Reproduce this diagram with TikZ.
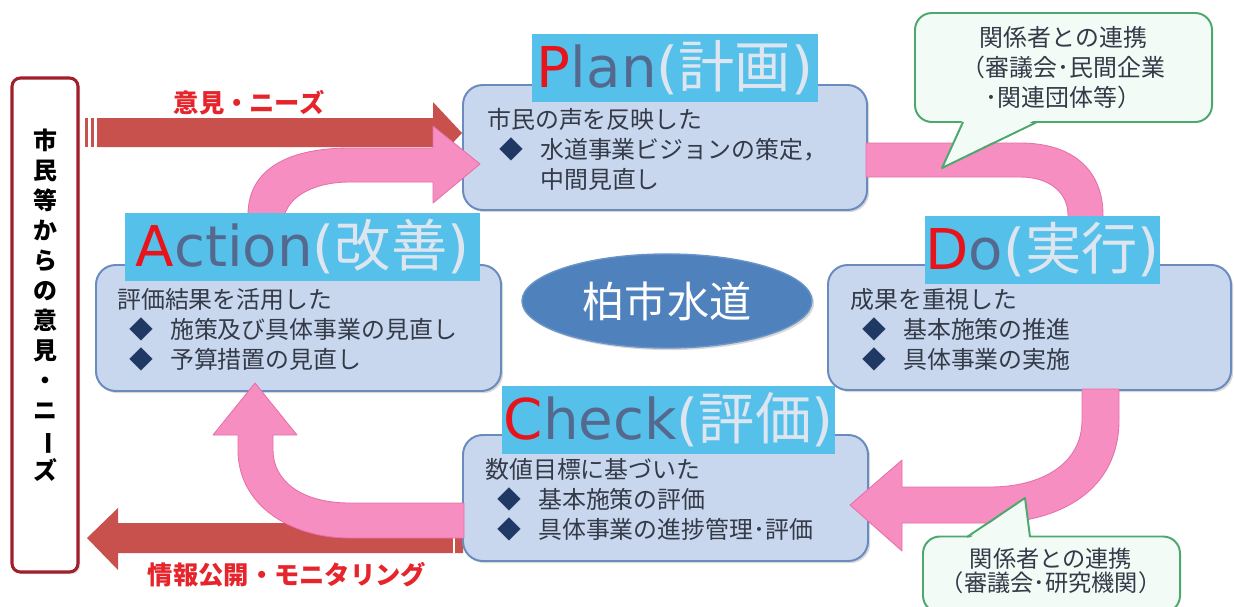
\documentclass[tikz,border=0pt]{standalone}
\usepackage{fontspec}
\usepackage{graphicx}
\setmainfont{Noto Sans CJK JP}
\newfontfamily\latinfont{DejaVu Sans}
\usetikzlibrary{shapes.geometric,shadows}

\definecolor{boxfill}{HTML}{C9D7EE}
\definecolor{boxline}{HTML}{6A8BBE}
\definecolor{bandfill}{HTML}{55C1EA}
\definecolor{arrowred}{HTML}{C8504D}
\definecolor{labelred}{HTML}{E5242B}
\definecolor{cyclepink}{HTML}{F78EC1}
\definecolor{cycleedge}{HTML}{E66FA8}
\definecolor{textgray}{HTML}{333A48}
\definecolor{bulletnavy}{HTML}{1F3864}
\definecolor{titlered}{HTML}{E8141C}
\definecolor{titleblue}{HTML}{55698F}
\definecolor{titlelight}{HTML}{DDE5F0}
\definecolor{notefill}{HTML}{F3FBF6}
\definecolor{noteline}{HTML}{4DA86E}
\definecolor{hubfill}{HTML}{4F81BD}
\definecolor{citizenline}{HTML}{A11F2B}

\newlength\pxu \setlength\pxu{0.025cm}
\newcommand\bul{\hspace*{12\pxu}\textcolor{bulletnavy}{◆}\hspace*{17\pxu}}
\newcommand\indentline{\hspace*{53\pxu}}
\newcommand\pdcatitle[3]{{\latinfont\textcolor{titlered}{#1}\textcolor{titleblue}{#2}\textcolor{titlelight}{(}}\textcolor{titlelight}{#3}{\latinfont\textcolor{titlelight}{)}}}

\begin{document}
\begin{tikzpicture}[x=0.025cm,y=-0.025cm,line join=round,
    infobox/.style={draw=boxline,line width=1.4pt,fill=boxfill,rounded corners=14pt,
      drop shadow={opacity=0.3,shadow xshift=1.5pt,shadow yshift=-1.5pt}},
    band/.style={fill=bandfill,inner sep=0pt,minimum height=68*\pxu,
      font=\fontsize{40}{48}\selectfont},
    bodytext/.style={anchor=north west,align=left,inner sep=0pt,text=textgray,
      font=\fontsize{17}{21.3}\selectfont},
    cyclearrow/.style={fill=cyclepink,draw=cycleedge,line width=0.6pt},
    redlabel/.style={text=labelred,font=\fontsize{18}{22}\selectfont\bfseries},
    note/.style={draw=noteline,line width=1.4pt,fill=notefill,rounded corners=12pt,
      align=center,text=textgray}]
  \useasboundingbox (0,0) rectangle (1234,606);
  \fill[white] (0,0) rectangle (1234,606);

  % red arrows to and from the citizens
  \fill[arrowred] (97,118) -- (433,118) -- (433,102) -- (462,133) -- (433,164) -- (433,147) -- (97,147) -- cycle;
  \foreach \sx in {85,90.5} \fill[arrowred] (\sx,118) rectangle ++(3,29);
  \fill[arrowred] (463,523) -- (118,523) -- (118,508) -- (87,538) -- (118,570) -- (118,553) -- (463,553) -- cycle;
  \draw[white,line width=0.8pt] (454,523) -- (454,553);
  \node[redlabel] (opinionlabel) at (249,103) {意見・ニーズ};
  \node[redlabel] (infolabel) at (287,575) {情報公開・モニタリング};

  % citizens
  \node[draw=citizenline,line width=2.2pt,fill=white,rounded corners=6pt,
    minimum width=66*\pxu,minimum height=494*\pxu,
    drop shadow={opacity=0.25,shadow xshift=1.5pt,shadow yshift=-1.5pt}] (citizenbox) at (45,325) {};
  \node[align=center,font=\fontsize{17}{21.3}\selectfont\bfseries] (citizentext) at (45,305)
    {市\\民\\等\\か\\ら\\の\\意\\見\\・\\ニ\\\rotatebox[origin=c]{-90}{ー}\\ズ};

  % PDCA boxes
  \node[infobox,minimum width=404*\pxu,minimum height=125*\pxu] (planbox) at (665,147.5) {};
  \node[infobox,minimum width=405*\pxu,minimum height=126*\pxu] (actionbox) at (298.5,328) {};
  \node[infobox,minimum width=403*\pxu,minimum height=125*\pxu] (dobox) at (1029.5,327.5) {};
  \node[infobox,minimum width=405*\pxu,minimum height=126*\pxu] (checkbox) at (665.5,498) {};

  \node[bodytext] (plantext) at (487,108) {市民の声を反映した\\\bul 水道事業ビジョンの策定，\\\indentline 中間見直し};
  \node[bodytext] (actiontext) at (117,288) {評価結果を活用した\\\bul 施策及び具体事業の見直し\\\bul 予算措置の見直し};
  \node[bodytext] (dotext) at (850,288) {成果を重視した\\\bul 基本施策の推進\\\bul 具体事業の実施};
  \node[bodytext] (checktext) at (485,458) {数値目標に基づいた\\\bul 基本施策の評価\\\bul 具体事業の進捗管理･評価};

  \node[ellipse,fill=hubfill,draw=hubfill!85!white,line width=1pt,
    minimum width=290*\pxu,minimum height=94*\pxu,text=white,
    font=\fontsize{30}{36}\selectfont,
    drop shadow={opacity=0.3,shadow xshift=1.5pt,shadow yshift=-1.5pt}] (hub) at (667,301) {柏市水道};

  % PDCA cycle arrows
  \path[cyclearrow] (248,232) -- (248,215) .. controls (248,168) and (290,148) .. (350,148)
    -- (433,148) -- (433,126) -- (480,164) -- (433,203) -- (433,182) -- (350,182)
    .. controls (312,182) and (283,198) .. (283,225) -- (283,232) -- cycle;
  \path[cyclearrow] (866,143) -- (1020,143) .. controls (1075,143) and (1103,172) .. (1103,215)
    -- (1103,236) -- (1124,236) -- (1085.5,272) -- (1047,236) -- (1068,236) -- (1068,215)
    .. controls (1068,193) and (1050,177) .. (1020,177) -- (866,177) -- cycle;
  \path[cyclearrow] (1082,389) -- (1082,420) .. controls (1082,465) and (1040,487) .. (990,487)
    -- (902,487) -- (902,460) -- (850,505) -- (902,551) -- (902,523) -- (990,523)
    .. controls (1060,523) and (1119,490) .. (1119,420) -- (1119,389) -- cycle;
  \path[cyclearrow] (464,503) -- (350,503) .. controls (300,503) and (273,480) .. (273,450)
    -- (273,435) -- (297,435) -- (255,383) -- (213,435) -- (238,435) -- (238,450)
    .. controls (238,505) and (290,538) .. (350,538) -- (464,538) -- cycle;

  % titles
  \node[band,minimum width=286*\pxu] (plantitle) at (675,68) {\pdcatitle{P}{lan}{計画}};
  \node[band,minimum width=355*\pxu] (actiontitle) at (302.5,246.5) {\pdcatitle{A}{ction}{改善}};
  \node[band,minimum width=235*\pxu] (dotitle) at (1042.5,249.5) {\pdcatitle{D}{o}{実行}};
  \node[band,minimum width=333*\pxu] (checktitle) at (668.5,420) {\pdcatitle{C}{heck}{評価}};

  % partner notes
  \node[note,minimum width=297*\pxu,minimum height=109*\pxu,
    font=\fontsize{17}{21.3}\selectfont] (topnote) at (1063.5,67.5)
    {関係者との連携\\（審議会･民間企業\\･関連団体等）};
  \fill[notefill] (963,119) -- (942,168) -- (1037,119) -- cycle;
  \draw[noteline,line width=1.4pt] (963,122) -- (942,168) -- (1037,122);

  \node[note,minimum width=257*\pxu,minimum height=76*\pxu] (bottomnote) at (1051.5,574.5) {};
  \fill[notefill] (967,540) -- (1025,498) -- (1030,540) -- cycle;
  \draw[noteline,line width=1.4pt] (967,537) -- (1025,498) -- (1030,537);
  \node[align=center,inner sep=0pt,text=textgray,font=\fontsize{16.5}{17}\selectfont] (bottomnotetext) at (1051,570.5)
    {関係者との連携\\（審議会･研究機関）};
\end{tikzpicture}
\end{document}
